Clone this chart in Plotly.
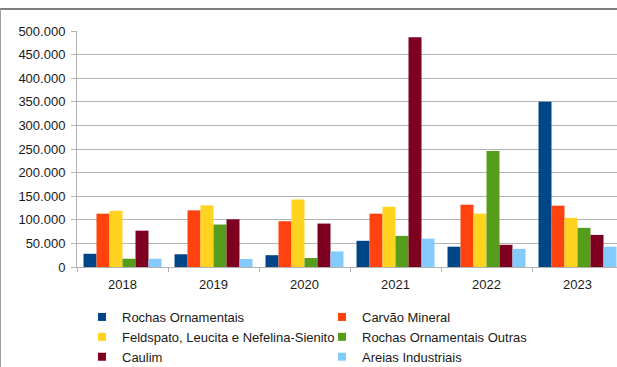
import plotly.graph_objects as go

# Produção por substância (t), 2018–2023
anos = ["2018", "2019", "2020", "2021", "2022", "2023"]

rochas_ornamentais = [28000, 27000, 25000, 55500, 43000, 350000]
carvao_mineral = [113000, 120000, 97000, 113000, 132000, 130000]
feldspato = [119000, 130500, 143000, 127500, 113000, 104000]
rochas_outras = [17500, 90000, 19000, 66000, 246000, 83000]
caulim = [77000, 101000, 92000, 487000, 47000, 68000]
areias_industriais = [17500, 17000, 33000, 60000, 38500, 43000]

series = [
    ("Rochas Ornamentais", rochas_ornamentais, "#004586"),
    ("Carvão Mineral", carvao_mineral, "#ff420e"),
    ("Feldspato, Leucita e Nefelina-Sienito", feldspato, "#ffd320"),
    ("Rochas Ornamentais Outras", rochas_outras, "#579d1c"),
    ("Caulim", caulim, "#7e0021"),
    ("Areias Industriais", areias_industriais, "#83caff"),
]

W, H = 617, 367
L, R, T, B = 77, 0, 31, 100
pw, ph = W - L - R, H - T - B

fig = go.Figure()
for nome, valores, cor in series:
    fig.add_trace(go.Bar(x=anos, y=valores, name=nome, marker_color=cor,
                         marker_line_width=0, showlegend=False))
    # small square swatch for the legend
    fig.add_trace(go.Scatter(x=[None], y=[None], mode="markers", name=nome,
                             marker=dict(symbol="square", size=8, color=cor)))

def px_x(p):
    return (p - L) / pw

def px_y(p):
    return (H - B - p) / ph

# outer frame lines
fig.add_shape(type="line", xref="paper", yref="paper",
              x0=px_x(0), x1=px_x(W), y0=px_y(9), y1=px_y(9),
              line=dict(color="#7f7f7f", width=2))
fig.add_shape(type="line", xref="paper", yref="paper",
              x0=px_x(0.5), x1=px_x(0.5), y0=px_y(9), y1=px_y(H),
              line=dict(color="#a0a0a0", width=1))

grid = "#b3b3b3"
fig.update_layout(
    width=W, height=H,
    margin=dict(l=L, r=R, t=T, b=B, pad=0, autoexpand=False),
    paper_bgcolor="white", plot_bgcolor="white",
    font=dict(family="Liberation Sans, Arial, sans-serif", size=13, color="#1a1a1a"),
    separators=",.",
    barmode="group", bargap=0.143, bargroupgap=0,
    xaxis=dict(
        range=[-0.5, -0.5 + pw / 91.0],
        showline=True, linecolor=grid, linewidth=1,
        ticks="outside", tickson="boundaries", ticklen=4, tickcolor=grid,
        ticklabelstandoff=5,
        showgrid=False, zeroline=False, fixedrange=True,
    ),
    yaxis=dict(
        range=[0, 500000], dtick=50000, tickformat=",d",
        showline=True, linecolor=grid, linewidth=1,
        ticks="outside", ticklen=5, tickcolor=grid,
        ticklabelstandoff=3,
        showgrid=True, gridcolor=grid, gridwidth=1,
        zeroline=False, fixedrange=True,
    ),
    legend=dict(
        orientation="h", x=px_x(82), y=px_y(302), xanchor="left", yanchor="top",
        entrywidth=195, entrywidthmode="pixels",
        font=dict(size=13), tracegroupgap=0, itemwidth=30,
        bgcolor="rgba(0,0,0,0)",
    ),
)

fig.write_html("out.html")
